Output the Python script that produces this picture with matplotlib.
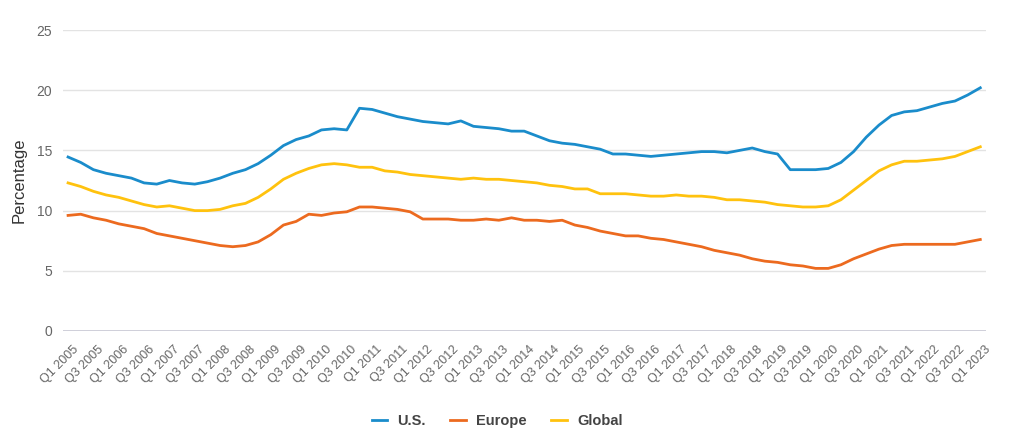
import matplotlib
matplotlib.use("Agg")
import matplotlib.pyplot as plt
import matplotlib.transforms as mtransforms
import numpy as np

plt.rcParams['font.family'] = ['Liberation Sans', 'DejaVu Sans']

quarters = [f"Q{q} {y}" for y in range(2005, 2024) for q in range(1, 5)][:73]

us = [14.45, 14.0, 13.4, 13.1, 12.9, 12.7, 12.3, 12.2, 12.5, 12.3, 12.2, 12.4,
      12.7, 13.1, 13.4, 13.9, 14.6, 15.4, 15.9, 16.2, 16.7, 16.8, 16.7, 18.5,
      18.4, 18.1, 17.8, 17.6, 17.4, 17.3, 17.2, 17.45, 17.0, 16.9, 16.8, 16.6,
      16.6, 16.2, 15.8, 15.6, 15.5, 15.3, 15.1, 14.7, 14.7, 14.6, 14.5, 14.6,
      14.7, 14.8, 14.9, 14.9, 14.8, 15.0, 15.2, 14.9, 14.7, 13.4, 13.4, 13.4,
      13.5, 14.0, 14.9, 16.1, 17.1, 17.9, 18.2, 18.3, 18.6, 18.9, 19.1, 19.6,
      20.2]

europe = [9.6, 9.7, 9.4, 9.2, 8.9, 8.7, 8.5, 8.1, 7.9, 7.7, 7.5, 7.3,
          7.1, 7.0, 7.1, 7.4, 8.0, 8.8, 9.1, 9.7, 9.6, 9.8, 9.9, 10.3,
          10.3, 10.2, 10.1, 9.9, 9.3, 9.3, 9.3, 9.2, 9.2, 9.3, 9.2, 9.4,
          9.2, 9.2, 9.1, 9.2, 8.8, 8.6, 8.3, 8.1, 7.9, 7.9, 7.7, 7.6,
          7.4, 7.2, 7.0, 6.7, 6.5, 6.3, 6.0, 5.8, 5.7, 5.5, 5.4, 5.2,
          5.2, 5.5, 6.0, 6.4, 6.8, 7.1, 7.2, 7.2, 7.2, 7.2, 7.2, 7.4,
          7.6]

global_ = [12.3, 12.0, 11.6, 11.3, 11.1, 10.8, 10.5, 10.3, 10.4, 10.2, 10.0, 10.0,
           10.1, 10.4, 10.6, 11.1, 11.8, 12.6, 13.1, 13.5, 13.8, 13.9, 13.8, 13.6,
           13.6, 13.3, 13.2, 13.0, 12.9, 12.8, 12.7, 12.6, 12.7, 12.6, 12.6, 12.5,
           12.4, 12.3, 12.1, 12.0, 11.8, 11.8, 11.4, 11.4, 11.4, 11.3, 11.2, 11.2,
           11.3, 11.2, 11.2, 11.1, 10.9, 10.9, 10.8, 10.7, 10.5, 10.4, 10.3, 10.3,
           10.4, 10.9, 11.7, 12.5, 13.3, 13.8, 14.1, 14.1, 14.2, 14.3, 14.5, 14.9,
           15.3]

series_names = ["U.S.", "Europe", "Global"]
colors = ["#1a8ccb", "#ec6a1f", "#ffc20e"]

fig = plt.figure(figsize=(10.24, 4.46), dpi=100)
ax = fig.add_axes([63/1024, 1 - 331/446, (986 - 63)/1024, (331 - 30)/446])

x = np.arange(len(quarters))
for vals, name, c in zip([us, europe, global_], series_names, colors):
    ax.plot(x, vals, color=c, lw=2, label=name, solid_joinstyle='round')

ax.set_xlim(-0.4, len(quarters) - 1 + 0.45)
ax.set_ylim(0, 25)
ax.set_yticks([0, 5, 10, 15, 20, 25])
ax.yaxis.grid(True, color="#e3e3e3", lw=1)
ax.axhline(0, color="#c8c8d4", lw=1.2, zorder=1)
ax.set_axisbelow(True)
for s in ax.spines.values():
    s.set_visible(False)
ax.tick_params(axis='y', length=0, pad=8, labelsize=10, labelcolor="#666666")
ax.tick_params(axis='x', length=0, pad=9, labelsize=9, labelcolor="#666666")
ax.set_xticks(x[::2])
ax.set_xticklabels(quarters[::2], rotation=45, ha='right', rotation_mode='anchor')
offset = mtransforms.ScaledTranslation(4/100, 0, fig.dpi_scale_trans)
for lab in ax.get_xticklabels():
    lab.set_transform(lab.get_transform() + offset)
ax.set_ylabel("Percentage", fontsize=12, color="#333333")
ax.yaxis.set_label_coords(-(63 - 27) / 923, 0.5)

leg = fig.legend(loc='center', bbox_to_anchor=(497/1024, 1 - 421/446), ncol=3, frameon=False,
                 handlelength=1.05, columnspacing=1.7, handletextpad=0.7,
                 prop={'weight': 'bold', 'size': 10.5})
for t in leg.get_texts():
    t.set_color("#444444")

fig.savefig("out.png", dpi=100)
